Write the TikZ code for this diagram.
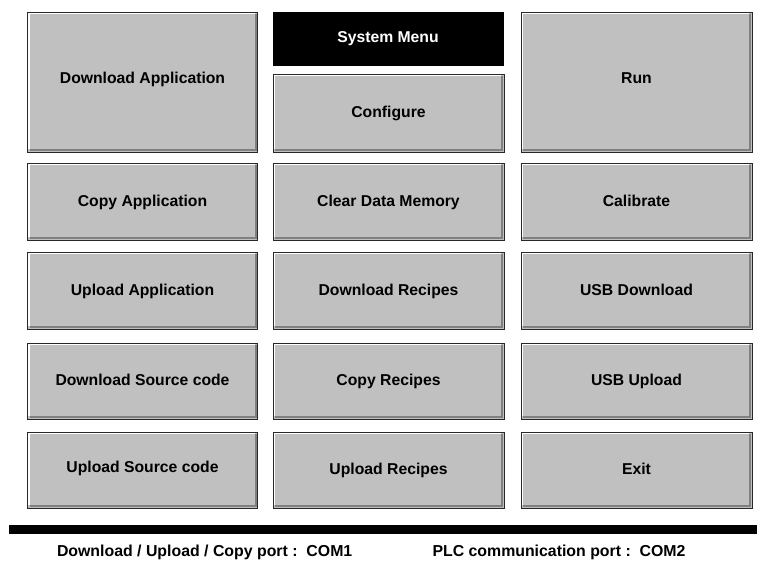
\documentclass[tikz,border=0pt]{standalone}
\usepackage{fontspec}
\setmainfont{Liberation Sans}
\definecolor{btngray}{RGB}{192,192,192}
\definecolor{shadowgray}{RGB}{128,128,128}
\definecolor{edgegray}{RGB}{40,40,40}
\begin{document}
\begin{tikzpicture}[x=0.75pt,y=-0.75pt,
  every node/.style={font=\fontsize{11.8}{13}\selectfont\bfseries, inner sep=0pt, outer sep=0pt},
  btn/.style={draw=edgegray, fill=btngray, line width=0.75pt,
    text height=0.72em, text depth=0pt,
    path picture={
      \draw[shadowgray, line width=1.5pt]
        ([shift={(1.5pt,1.3pt)}]path picture bounding box.south west) -|
        ([shift={(-1.3pt,-1.5pt)}]path picture bounding box.north east);
      \draw[white, line width=0.9pt]
        ([shift={(1.1pt,2.2pt)}]path picture bounding box.south west) |-
        ([shift={(-2.2pt,-1.1pt)}]path picture bounding box.north east);
    }},
  foot/.style={font=\fontsize{11.9}{13}\selectfont\bfseries, anchor=west, text height=0.72em, text depth=0pt}
]
\useasboundingbox (0,0) rectangle (757,561);
\fill[white] (0,0) rectangle (757,561);
% column 1
\node[btn, minimum width=230*0.75pt, minimum height=140*0.75pt] (dlapp) at (142.5,82) {\raisebox{2.2pt}{Download Application}};
\node[btn, minimum width=230*0.75pt, minimum height=77*0.75pt] (cpapp) at (142.5,201.5) {Copy Application};
\node[btn, minimum width=230*0.75pt, minimum height=77*0.75pt] (upapp) at (142.5,290.5) {Upload Application};
\node[btn, minimum width=230*0.75pt, minimum height=76*0.75pt] (dlsrc) at (142.5,381) {Download Source code};
\node[btn, minimum width=230*0.75pt, minimum height=76*0.75pt] (upsrc) at (142.5,470) {\raisebox{1.5pt}{Upload Source code}};
% column 2
\node[fill=black, text=white, minimum width=231*0.75pt, minimum height=54*0.75pt, text height=0.72em, text depth=0pt] (sysmenu) at (388,39) {\raisebox{1pt}{System Menu}};
\node[btn, minimum width=231*0.75pt, minimum height=78*0.75pt] (config) at (388.5,113) {Configure};
\node[btn, minimum width=231*0.75pt, minimum height=77*0.75pt] (clrmem) at (388.5,201.5) {Clear Data Memory};
\node[btn, minimum width=231*0.75pt, minimum height=77*0.75pt] (dlrec) at (388.5,290.5) {Download Recipes};
\node[btn, minimum width=231*0.75pt, minimum height=76*0.75pt] (cprec) at (388.5,381) {Copy Recipes};
\node[btn, minimum width=231*0.75pt, minimum height=76*0.75pt] (uprec) at (388.5,470) {Upload Recipes};
% column 3
\node[btn, minimum width=231*0.75pt, minimum height=140*0.75pt] (run) at (636.5,82) {\raisebox{2.2pt}{Run}};
\node[btn, minimum width=231*0.75pt, minimum height=77*0.75pt] (calib) at (636.5,201.5) {Calibrate};
\node[btn, minimum width=231*0.75pt, minimum height=77*0.75pt] (usbdl) at (636.5,290.5) {USB Download};
\node[btn, minimum width=231*0.75pt, minimum height=76*0.75pt] (usbup) at (636.5,381) {USB Upload};
\node[btn, minimum width=231*0.75pt, minimum height=76*0.75pt] (exit) at (636.5,470) {Exit};
% bottom bar
\fill[black] (9,525) rectangle (757,534);
\node[foot] (port1) at (57,552) {Download / Upload / Copy port :\ \ COM1};
\node[foot] (port2) at (432.5,552) {PLC communication port :\ \ COM2};
\end{tikzpicture}
\end{document}
